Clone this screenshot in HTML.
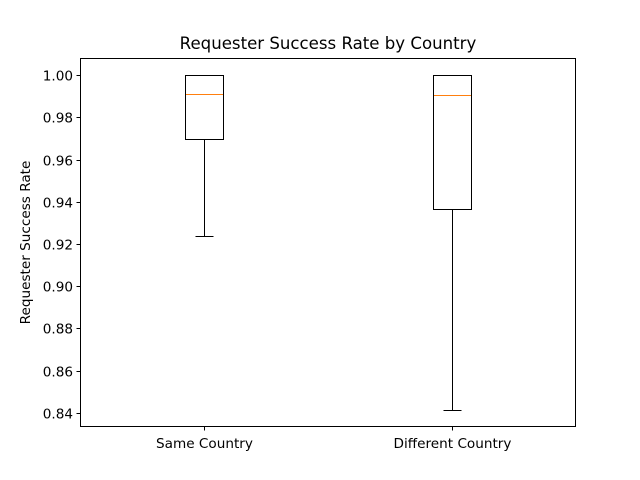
<!DOCTYPE html>
<html><head><meta charset="utf-8"><style>
body{margin:0;background:#fff}
svg{display:block;font-family:"DejaVu Sans","Liberation Sans",sans-serif}
</style></head><body>
<svg id="chart" width="640" height="480">
<rect x="0" y="0" width="640" height="480" fill="#fff"/>
<text x="328" y="49" text-anchor="middle" font-size="16.6">Requester Success Rate by Country</text>
<text transform="translate(30,242.5) rotate(-90)" text-anchor="middle" font-size="13.6">Requester Success Rate</text>
<g id="marks"></g>
<rect x="80.5" y="58.5" width="495" height="368" fill="none" stroke="#000" stroke-width="1"/>
</svg>
<script>
const categories = ["Same Country", "Different Country"];
const q1Values = [0.9697, 0.9366];
const medianValues = [0.9908, 0.9903];
const q3Values = [1.0, 1.0];
const whiskerLow = [0.9238, 0.8414];
const whiskerHigh = [1.0, 1.0];
const yTicks = [0.84, 0.86, 0.88, 0.90, 0.92, 0.94, 0.96, 0.98, 1.00];
const yTickLabels = ["0.84","0.86","0.88","0.90","0.92","0.94","0.96","0.98","1.00"];

const X0=80, X1=576, Y0=58, Y1=427;
const yMin=0.83337, yMax=1.00805;
const xMin=0.5, xMax=categories.length+0.5;
const sx=v=>X0+(v-xMin)/(xMax-xMin)*(X1-X0);
const sy=v=>Y1-(v-yMin)/(yMax-yMin)*(Y1-Y0);
const px=v=>Math.round(v)+0.5;
const g=document.getElementById('marks');
const NS='http://www.w3.org/2000/svg';
function mk(tag,attrs,name,text){
  const e=document.createElementNS(NS,tag);
  for(const k in attrs)e.setAttribute(k,attrs[k]);
  
  
  if(text!==undefined)e.textContent=text;
  g.appendChild(e);return e;
}
yTicks.forEach((t,i)=>{
  const y=px(sy(t));
  mk('line',{x1:X0-3.5,x2:X0,y1:y,y2:y,stroke:'#000','stroke-width':1},'y-tick');
  mk('text',{x:X0-7,y:y+4.8,'text-anchor':'end','font-size':13.6},'y-tick-label',yTickLabels[i]);
});
categories.forEach((c,i)=>{
  const cx=px(sx(i+1)), bw=Math.round(sx(1.075)-sx(1)), hw=Math.round((sx(1.075)-sx(1))/2);
  const yq1=px(sy(q1Values[i])), yq3=px(sy(q3Values[i])), ym=px(sy(medianValues[i]));
  const yl=px(sy(whiskerLow[i])), yh=px(sy(whiskerHigh[i]));
  mk('line',{x1:cx,x2:cx,y1:Y1,y2:Y1+3.5,stroke:'#000'},'x-tick');
  mk('text',{x:cx,y:Y1+21,'text-anchor':'middle','font-size':13.6},'x-tick-label',c);
  mk('line',{x1:cx,x2:cx,y1:yq1,y2:yl,stroke:'#000'},'lower-whisker');
  mk('line',{x1:cx,x2:cx,y1:yq3,y2:yh,stroke:'#000'},'upper-whisker');
  mk('line',{x1:cx-hw,x2:cx+hw,y1:yl,y2:yl,stroke:'#000'},'lower-cap');
  mk('line',{x1:cx-hw,x2:cx+hw,y1:yh,y2:yh,stroke:'#000'},'upper-cap');
  mk('rect',{x:cx-bw,y:yq3,width:2*bw,height:yq1-yq3,fill:'none',stroke:'#000'},'box');
  mk('line',{x1:cx-bw+0.5,x2:cx+bw-0.5,y1:ym,y2:ym,stroke:'#ff7f0e'},'median-line');
});
</script>
</body></html>
